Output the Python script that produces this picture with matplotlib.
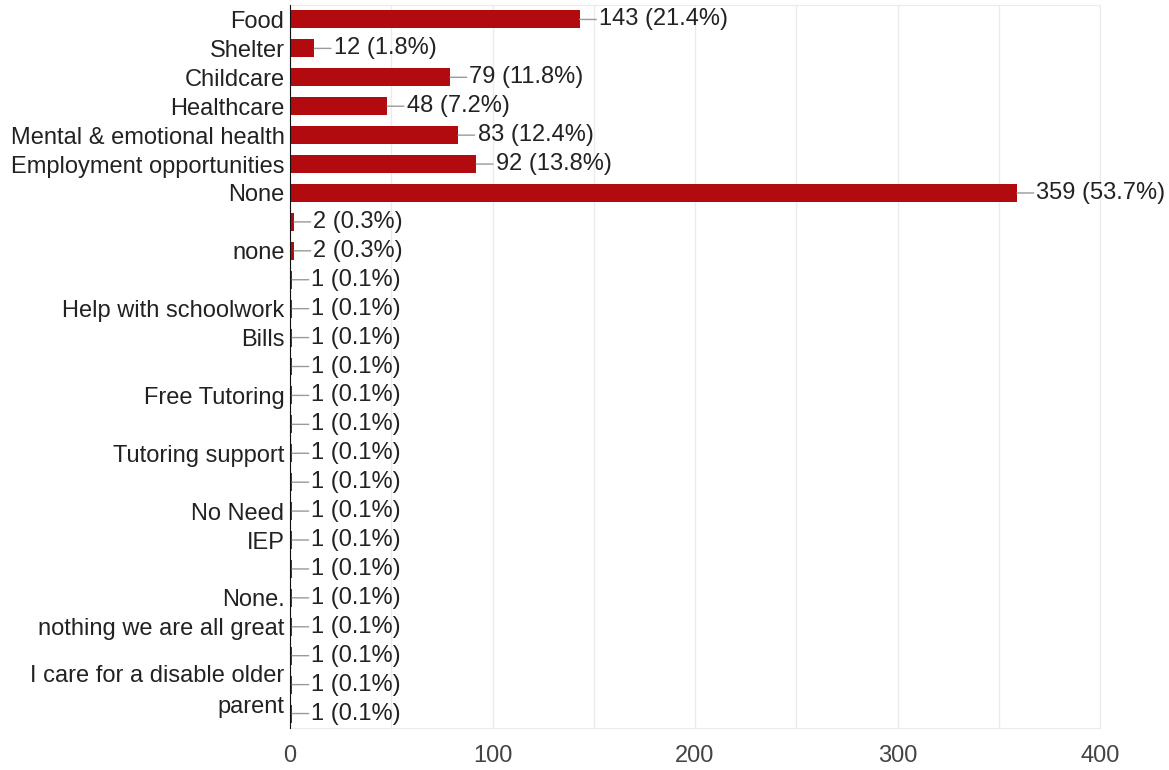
import matplotlib.pyplot as plt
import numpy as np

plt.rcParams['font.family'] = ['Liberation Sans', 'DejaVu Sans']

# answers and counts, top to bottom
labels = ['Food', 'Shelter', 'Childcare', 'Healthcare', 'Mental & emotional health',
          'Employment opportunities', 'None', '', 'none', '', 'Help with schoolwork',
          'Bills', '', 'Free Tutoring', '', 'Tutoring support', '', 'No Need', 'IEP',
          '', 'None.', 'nothing we are all great', '',
          'I care for a disable older\nparent', '']
counts = [143, 12, 79, 48, 83, 92, 359, 2, 2, 1, 1, 1, 1, 1, 1, 1, 1, 1, 1, 1, 1, 1, 1, 1, 1]
pcts = ['21.4', '1.8', '11.8', '7.2', '12.4', '13.8', '53.7', '0.3', '0.3', '0.1', '0.1',
        '0.1', '0.1', '0.1', '0.1', '0.1', '0.1', '0.1', '0.1', '0.1', '0.1', '0.1',
        '0.1', '0.1', '0.1']

fig = plt.figure(figsize=(11.69, 7.7), dpi=100)
ax = fig.add_axes([290 / 1169, 42 / 770, 810 / 1169, 723 / 770])

y = np.arange(len(labels))
ax.barh(y, counts, height=0.62, color='#b10b0f', zorder=3)

for yi, c, p in zip(y, counts, pcts):
    ax.annotate(f'{c} ({p}%)', xy=(c, yi), xytext=(14, 0), textcoords='offset points',
                ha='left', va='center', fontsize=17, color='#222222',
                arrowprops=dict(arrowstyle='-', color='#9a9a9a', lw=1,
                                shrinkA=0, shrinkB=0), zorder=4)

ax.set_xlim(0, 400)
ax.set_ylim(len(labels) - 0.5, -0.5)
ax.set_xticks([0, 100, 200, 300, 400])
ax.set_xticks(np.arange(50, 400, 100), minor=True)
ax.grid(axis='x', which='both', color='#ebebeb', lw=1, zorder=0)

ax.set_yticks(y)
ax.set_yticklabels(labels, fontsize=17, color='#222222', linespacing=1.55)
ax.tick_params(axis='y', length=0, pad=4)
ax.tick_params(axis='x', which='both', length=0, pad=12, labelsize=17, labelcolor='#444444')

for s in ['top', 'right', 'bottom']:
    ax.spines[s].set_color('#ebebeb')
ax.spines['left'].set_color('#111111')
ax.spines['left'].set_zorder(5)

fig.savefig('out.png', dpi=100)
